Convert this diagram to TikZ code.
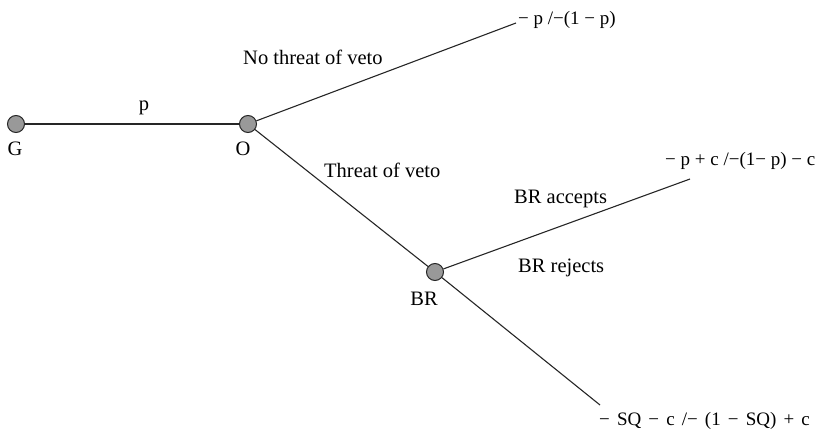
\documentclass[tikz,border=0pt]{standalone}
\usepackage{fontspec}
\setmainfont{Liberation Serif}
\newfontfamily\payfont[WordSpace=1.5]{Liberation Serif}
\begin{document}
\begin{tikzpicture}[x=1pt,y=-1pt,
  every node/.style={font=\fontsize{20.5}{24}\selectfont, inner sep=0pt},
  decision/.style={circle, draw=black!85, fill=black!40, line width=1pt, minimum size=17pt},
  branch/.style={line width=1.1pt, draw=black!85},
  lbl/.style={anchor=base west},
  payoff/.style={anchor=base west, font=\fontsize{19}{23}\selectfont}]
\useasboundingbox (0,0) rectangle (823,434);
\node[decision] (G) at (16,124) {};
\node[decision] (O) at (248,124) {};
\node[decision] (BR) at (435,272) {};
\coordinate (T1) at (516,23);
\coordinate (T2) at (690,179);
\coordinate (T3) at (600,405);
\draw[branch] (G) -- (O);
\draw[branch] (O) -- (T1);
\draw[branch] (O) -- (BR);
\draw[branch] (BR) -- (T2);
\draw[branch] (BR) -- (T3);
\node[anchor=base] (lp) at (144,110) {p};
\node[anchor=base] (lG) at (15,155) {G};
\node[anchor=base] (lO) at (243,155) {O};
\node[anchor=base] (lBR) at (424,305) {BR};
\node[lbl] (lnt) at (243,64) {No threat of veto};
\node[lbl] (lt) at (324,177) {Threat of veto};
\node[lbl] (la) at (514,203) {BR accepts};
\node[lbl] (lr) at (518,272) {BR rejects};
\node[payoff] (p1) at (518,24) {− p /−(1 − p)};
\node[payoff] (p2) at (665,165) {− p + c /−(1− p) − c};
\node[payoff, font=\fontsize{19}{23}\payfont] (p3) at (599,425) {− SQ − c /− (1 − SQ) + c};
\end{tikzpicture}
\end{document}
